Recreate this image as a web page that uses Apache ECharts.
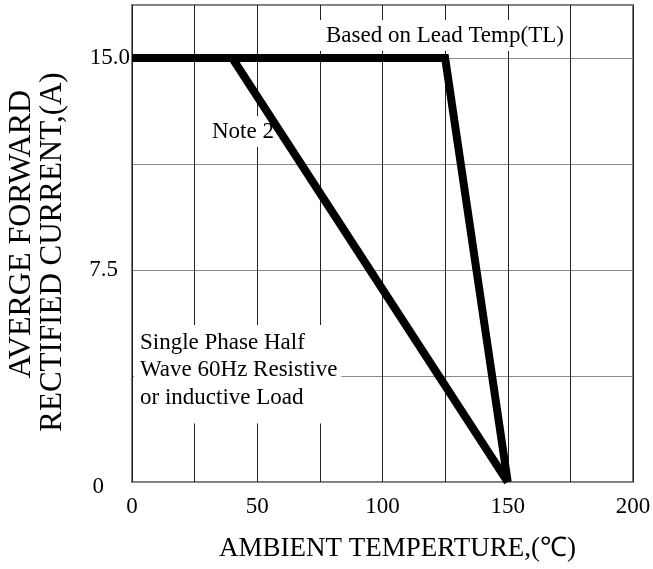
<!DOCTYPE html>
<html>
<head>
<meta charset="utf-8">
<script src="https://cdn.jsdelivr.net/npm/echarts@6/dist/echarts.min.js"></script>
<style>
html,body{margin:0;padding:0;background:#fff;}
#chart{width:653px;height:569px;}
</style>
</head>
<body>
<div id="chart"></div>
<script>
// ---- data ----
var leadTempX = [0, 125, 150];
var leadTempY = [15, 15, 0];
var note2X = [40, 150];
var note2Y = [15, 0];
var xTickLabels = [0, 50, 100, 150, 200];
var yTickLabels = [0, 7.5, 15];
var xTitle = 'AMBIENT TEMPERTURE,(\u2103)';
var yTitle1 = 'AVERGE FORWARD';
var yTitle2 = 'RECTIFIED CURRENT,(A)';
var noteLead = 'Based on Lead Temp(TL)';
var noteTwo = 'Note 2';
var noteLoad = ['Single Phase Half', 'Wave 60Hz Resistive', 'or inductive Load'];

function pairs(xs, ys){ return xs.map(function(x,i){ return [x, ys[i]]; }); }

var FONT = "'Liberation Serif','Times New Roman',serif";
var chart = echarts.init(document.getElementById('chart'));
chart.setOption({
  animation: false,
  backgroundColor: '#fff',
  grid: {left: 132, right: 20, top: 5, bottom: 87, show: true, containLabel: false, outerBoundsMode: 'none',
         borderColor: '#7a7a7a', borderWidth: 2, backgroundColor: 'transparent'},
  xAxis: {
    type: 'value', min: 0, max: 200, interval: 25,
    axisLine: {show: false}, axisTick: {show: false},
    splitLine: {show: true, lineStyle: {color: '#222', width: 1}},
    axisLabel: {
      margin: 13, color: '#000', fontFamily: FONT, fontSize: 23,
      formatter: function(v){ return xTickLabels.indexOf(v) >= 0 ? String(v) : ''; }
    },
    name: xTitle, nameLocation: 'middle', nameGap: 53,
    nameTextStyle: {fontFamily: FONT, fontSize: 27, color: '#000', padding: [0, 0, 0, 30]}
  },
  yAxis: {
    type: 'value', min: 0, max: 16.875, interval: 3.75,
    axisLine: {show: false}, axisTick: {show: false},
    splitLine: {show: true, lineStyle: {color: '#8a8a8a', width: 1}},
    axisLabel: {
      margin: 2, color: '#000', fontFamily: FONT, fontSize: 23,
      formatter: function(v){
        if (yTickLabels.indexOf(v) < 0) return '';
        if (v === 15) return '{a|15.0}';
        if (v === 7.5) return '{b|7.5}';
        return '{c|0}';
      },
      rich: {
        a: {fontFamily: FONT, fontSize: 23, color: '#000'},
        b: {fontFamily: FONT, fontSize: 23, color: '#000', padding: [0, 12, 0, 0]},
        c: {fontFamily: FONT, fontSize: 23, color: '#000', padding: [10, 26, 0, 0]}
      }
    },
    name: '{p|' + yTitle1 + '}\n{q|' + yTitle2 + '}',
    nameLocation: 'middle', nameGap: 64, nameRotate: 90,
    nameTextStyle: {
      fontFamily: FONT, fontSize: 31, color: '#000',
      rich: {
        p: {fontFamily: FONT, fontSize: 32, color: '#000', lineHeight: 31, padding: [0, 0, 0, 19]},
        q: {fontFamily: FONT, fontSize: 31, color: '#000', lineHeight: 31, padding: [0, 17, 0, 0]}
      }
    }
  },
  graphic: [
    {type: 'text', z: 1, left: 320, top: 20,
     style: {text: noteLead, font: '23px ' + FONT, fill: '#000', backgroundColor: '#fff', padding: [4, 6, 4, 6]}},
    {type: 'text', z: 1, left: 208, top: 116,
     style: {text: noteTwo, font: '23px ' + FONT, fill: '#000', backgroundColor: '#fff', padding: [4, 4, 4, 4]}},
    {type: 'text', z: 1, left: 134, top: 325,
     style: {text: noteLoad.join('\n'), font: '23px ' + FONT, lineHeight: 27.5, fill: '#000', backgroundColor: '#fff', padding: [4, 4, 12, 6]}}
  ],
  series: [
    {type: 'line', data: pairs(leadTempX, leadTempY), symbol: 'none', z: 3,
     lineStyle: {color: '#000', width: 8, join: 'miter', cap: 'butt'}},
    {type: 'line', data: pairs(note2X, note2Y), symbol: 'none', z: 3,
     lineStyle: {color: '#000', width: 8, join: 'miter', cap: 'butt'}}
  ]
});
</script>
</body>
</html>
